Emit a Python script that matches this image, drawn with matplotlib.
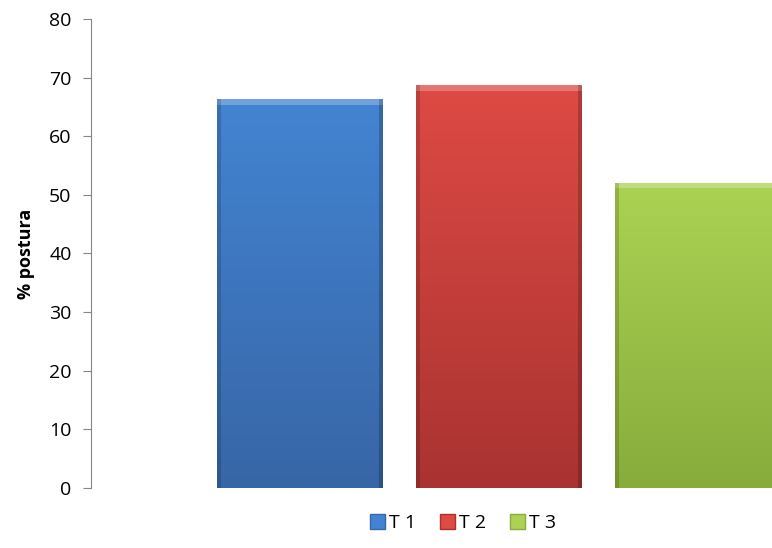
import numpy as np
import matplotlib
matplotlib.use('Agg')
from matplotlib import pyplot as plt
from matplotlib.patches import Patch

plt.rcParams['font.family'] = ['Open Sans', 'DejaVu Sans']

series = ['T 1', 'T 2', 'T 3']
values = [66.3, 68.7, 52.0]
top_colors = ['#4384d2', '#de4a44', '#acd253']
bottom_colors = ['#3766a6', '#a93331', '#88ac3c']
yticks = [0, 10, 20, 30, 40, 50, 60, 70, 80]

fig = plt.figure(figsize=(7.72, 5.48), dpi=100)
# plot area is wider than the picture: the third bar gets cut on the right
ax = fig.add_axes([91 / 772, 60 / 548, 816 / 772, 469 / 548])

x = np.arange(len(series))
width = 0.834


def hex_rgb(h):
    return np.array([int(h[i:i + 2], 16) for i in (1, 3, 5)]) / 255.0


for i, v in enumerate(values):
    bar = ax.bar(x[i], v, width=width, color=top_colors[i], edgecolor='none', zorder=2)[0]
    # vertical gradient inside the bar
    t = hex_rgb(top_colors[i])
    b = hex_rgb(bottom_colors[i])
    f = np.linspace(0, 1, 256)[:, None]
    grad = t[None, :] * (1 - f) + b[None, :] * f
    img = np.repeat(grad[:, None, :], 8, axis=1)
    im = ax.imshow(img, extent=[x[i] - width / 2, x[i] + width / 2, 0, v],
                   origin='upper', aspect='auto', zorder=3)
    im.set_clip_path(bar)
    # bevel: light strip on top, darker sides
    ax.fill_between([x[i] - width / 2, x[i] + width / 2], v - 0.9, v,
                    color='white', alpha=0.25, lw=0, zorder=4)
    ax.fill_between([x[i] - width / 2, x[i] - width / 2 + 0.02], 0, v,
                    color='black', alpha=0.15, lw=0, zorder=4)
    ax.fill_between([x[i] + width / 2 - 0.02, x[i] + width / 2], 0, v,
                    color='black', alpha=0.2, lw=0, zorder=4)

ax.set_xlim(-1.053, 3.053)
ax.set_ylim(0, 80)
ax.set_yticks(yticks)
ax.set_xticks([])
for s in ['top', 'right', 'bottom']:
    ax.spines[s].set_visible(False)
ax.spines['left'].set_color('#868686')
ax.tick_params(axis='y', direction='out', length=6, color='#868686',
               labelsize=14, labelcolor='black', pad=8)
ax.set_ylabel('% postura', fontsize=13, fontweight='bold', labelpad=10)

handles = [Patch(facecolor=top_colors[i], edgecolor=bottom_colors[i], label=series[i])
           for i in range(len(series))]
fig.legend(handles=handles, loc='center', bbox_to_anchor=(463 / 772, 25 / 548),
           ncol=3, frameon=False, fontsize=14, handlelength=0.8, handleheight=0.8,
           handletextpad=0.2, columnspacing=1.2)

plt.savefig('out.png', dpi=100)
